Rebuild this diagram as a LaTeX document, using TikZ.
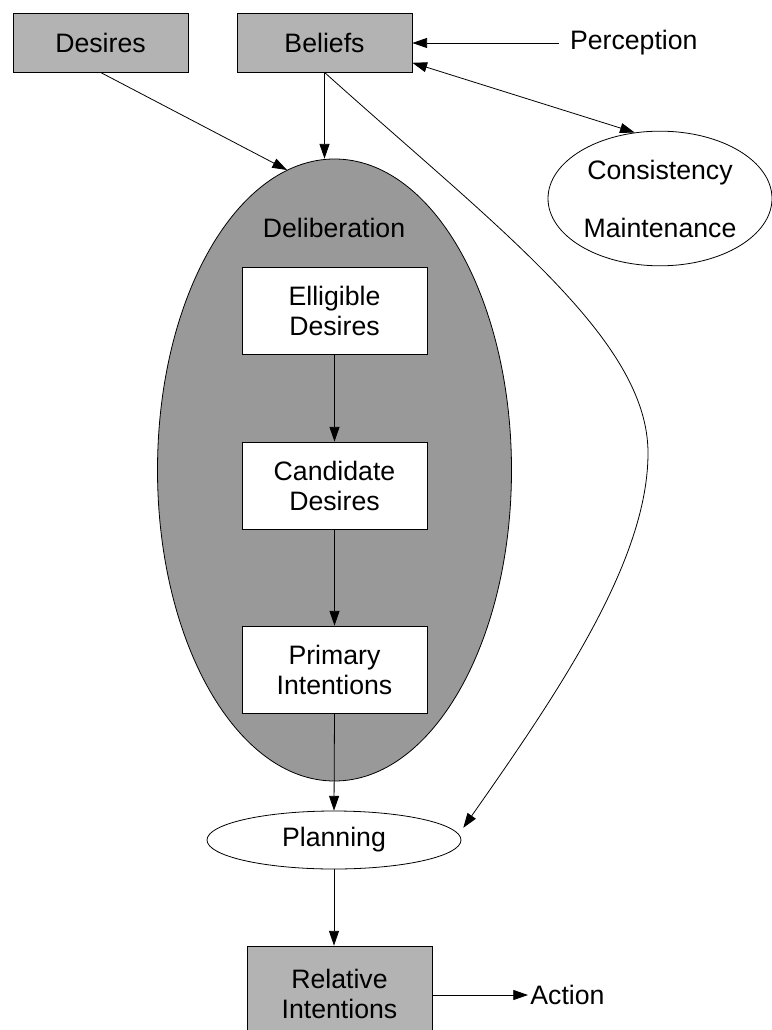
\documentclass[tikz,border=0pt]{standalone}
\usepackage{fontspec}
\setmainfont{Liberation Sans}
\usetikzlibrary{shapes.geometric,arrows.meta}
\definecolor{boxgray}{RGB}{179,179,179}
\definecolor{delgray}{RGB}{153,153,153}
\begin{document}
\begin{tikzpicture}[x=0.75pt,y=-0.75pt,
  every node/.style={font=\fontsize{20}{22.5}\selectfont, text=black},
  line width=0.6pt,
  >={Triangle[length=11pt,width=7.5pt]},
  graybox/.style={draw, fill=boxgray, rectangle, inner sep=0pt, minimum width=131.25pt, minimum height=44.25pt, align=center},
  whitebox/.style={draw, fill=white, rectangle, inner sep=0pt, minimum width=138.75pt, minimum height=65.25pt, align=center},
  plainlabel/.style={inner sep=0pt}
]
\useasboundingbox (0,0) rectangle (771,1030);
\fill[white] (0,0) rectangle (771,1030);

% nodes
\node[graybox] (des) at (100.5,42.5) {Desires};
\node[graybox] (bel) at (324.5,42.5) {Beliefs};
\node[plainlabel, anchor=west, inner xsep=8pt] (perc) at (559,43) {Perception};
\node[draw, ellipse, fill=white, inner sep=0pt, minimum width=168pt, minimum height=101pt, align=center, font=\fontsize{20}{43.5}\selectfont] (cm) at (660,198.5) {Consistency\\Maintenance};

\node[draw, ellipse, fill=delgray, inner sep=0pt, minimum width=265.5pt, minimum height=466.5pt] (del) at (334.5,470) {};
\node[plainlabel] (dellab) at (334,228) {Deliberation};
\node[whitebox] (eli) at (334.5,310.5) {Elligible\\Desires};
\node[whitebox] (cand) at (334.5,485.5) {Candidate\\Desires};
\node[whitebox] (prim) at (334.5,669.5) {Primary\\Intentions};

\node[draw, ellipse, fill=white, inner sep=0pt, minimum width=190.5pt, minimum height=43.5pt] (pl) at (334,840) {Planning};
\node[graybox, minimum width=138.75pt, minimum height=72pt] (rel) at (339.5,994) {Relative\\Intentions};
\node[plainlabel, anchor=west, inner xsep=1.5pt] (act) at (528,995) {Action};

% connectors
\draw[->] (perc.west) -- (perc.west -| bel.east);
\draw[<->] (bel.-13) -- (cm.111);
\draw[->] (des.south) -- (del.99.5);
\draw[->] (bel.south) -- (bel.south |- del.north);
\draw[->] (bel.south) .. controls (500,230) and (648,340) .. (648,453)
  .. controls (648,560) and (560,690) .. ([xshift=10pt]pl.6);
\draw[->] (eli.south) -- (cand.north);
\draw[->] (cand.south) -- (prim.north);
\draw[->] (prim.south) -- (pl.north);
\draw[->] (pl.south) -- (pl.south |- rel.north);
\draw[->] (rel.east |- act.west) -- (act.west);
\end{tikzpicture}
\end{document}
